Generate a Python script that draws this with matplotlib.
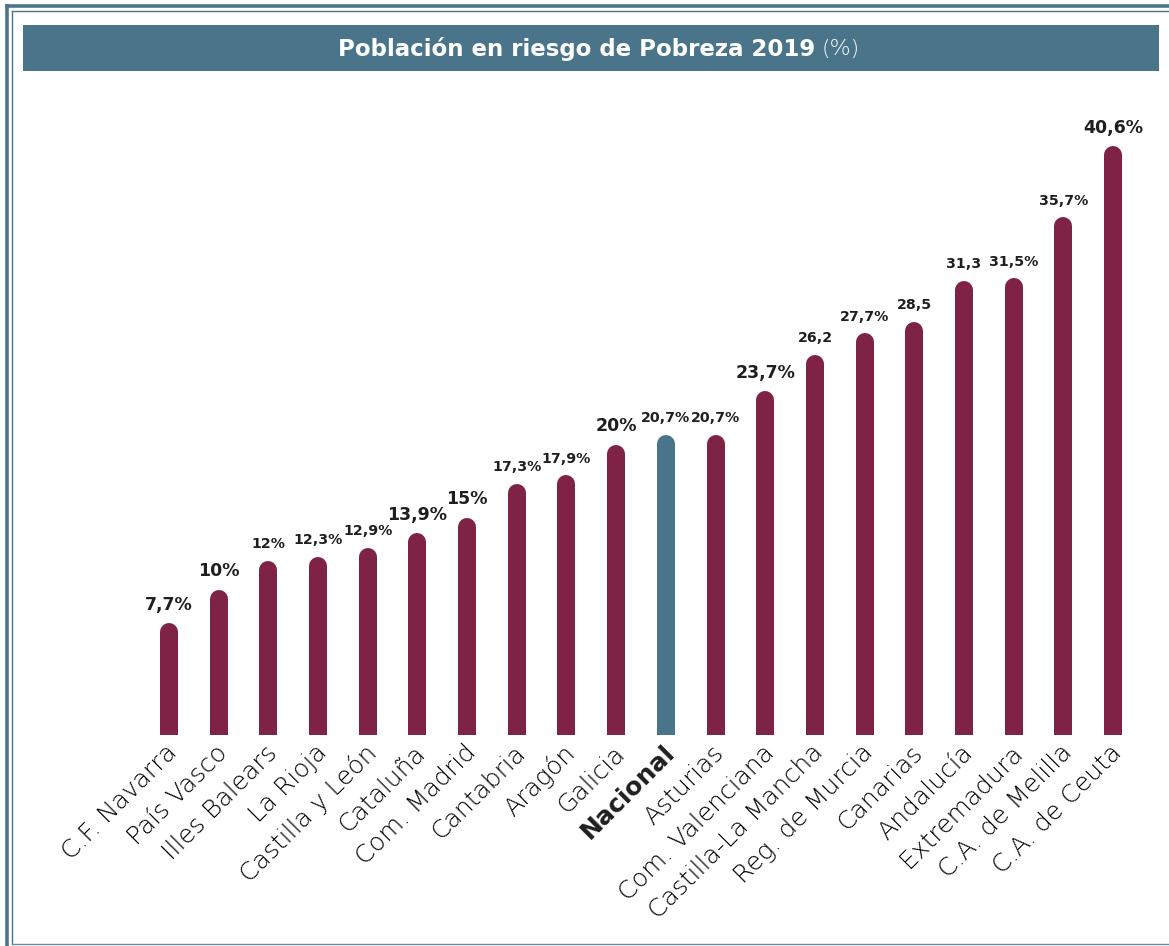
import matplotlib
matplotlib.use("Agg")
import matplotlib.pyplot as plt
import matplotlib.transforms as mtransforms
from matplotlib.lines import Line2D
from matplotlib.patches import Rectangle

# ── data ──────────────────────────────────────────────────────────────────────
regions = ["C.F. Navarra", "País Vasco", "Illes Balears", "La Rioja", "Castilla y León",
           "Cataluña", "Com. Madrid", "Cantabria", "Aragón", "Galicia", "Nacional",
           "Asturias", "Com. Valenciana", "Castilla-La Mancha", "Reg. de Murcia",
           "Canarias", "Andalucía", "Extremadura", "C.A. de Melilla", "C.A. de Ceuta"]
values = [7.7, 10, 12, 12.3, 12.9, 13.9, 15, 17.3, 17.9, 20, 20.7,
          20.7, 23.7, 26.2, 27.7, 28.5, 31.3, 31.5, 35.7, 40.6]
value_labels = ["7,7%", "10%", "12%", "12,3%", "12,9%", "13,9%", "15%", "17,3%", "17,9%",
                "20%", "20,7%", "20,7%", "23,7%", "26,2", "27,7%", "28,5", "31,3",
                "31,5%", "35,7%", "40,6%"]
highlight = "Nacional"

# ── style ─────────────────────────────────────────────────────────────────────
BAR = "#7f2346"
BLUE = "#4a7489"
TXT = "#1f1f1f"
W, H = 1169, 946
big_labels = {"7,7%", "10%", "15%", "20%", "23,7%", "40,6%", "13,9%"}

fig = plt.figure(figsize=(W / 100, H / 100), dpi=100)
fig.patch.set_facecolor("white")

def px(x, y):
    return x / W, 1 - y / H

# frame: thick outer line + thin inner line
fig.add_artist(Line2D([6.5 / W, 6.5 / W], [0, 1 - 6.5 / H], color=BLUE, lw=2.6))
fig.add_artist(Line2D([6.5 / W, 1], [1 - 6.5 / H, 1 - 6.5 / H], color=BLUE, lw=2.6))
fig.add_artist(Line2D([11.5 / W, 11.5 / W], [1 - 944 / H, 1 - 11.5 / H], color=BLUE, lw=1.0))
fig.add_artist(Line2D([11.5 / W, 1], [1 - 11.5 / H, 1 - 11.5 / H], color=BLUE, lw=1.0))
fig.add_artist(Line2D([11.5 / W, 1], [1 - 944 / H, 1 - 944 / H], color="#6f8a98", lw=1.0))

# title bar
fig.add_artist(Rectangle(px(23, 71), (1159 - 23) / W, 46 / H, color=BLUE, lw=0))
fig.text(*px(815, 49), "Población en riesgo de Pobreza 2019", color="white",
         fontsize=16.5, fontweight="bold", family="DejaVu Sans", ha="right", va="center")
fig.text(*px(822, 49), "(%)", color="white", fontsize=16, fontweight="light",
         family="DejaVu Sans", ha="left", va="center")

# ── axes ──────────────────────────────────────────────────────────────────────
base_px, top_px = 735, 80
unit_px = 14.5
left_px, right_px = 144, 1138
ax = fig.add_axes([left_px / W, 1 - base_px / H, (right_px - left_px) / W,
                   (base_px - top_px) / H])
ax.set_xlim(-0.5, len(values) - 0.5)
ax.set_ylim(0, (base_px - top_px) / unit_px)
ax.axis("off")

bar_px = 18
r = (bar_px / 2) / unit_px
for i, (name, v, lab) in enumerate(zip(regions, values, value_labels)):
    c = BLUE if name == highlight else BAR
    ax.plot([i, i], [-5, v - r], color=c, lw=bar_px * 0.72,
            solid_capstyle="round", clip_on=True)
    ax.annotate(lab, (i, v), xytext=(0, 7), textcoords="offset points",
                ha="center", va="bottom", color=TXT, family="DejaVu Sans",
                fontweight="bold", fontsize=12.5 if lab in big_labels else 10.2)

# category labels, rotated 45°
offset = mtransforms.ScaledTranslation(5 / 100, -14 / 100, fig.dpi_scale_trans)
for i, name in enumerate(regions):
    bold = name == highlight
    ax.text(i, 0, name, rotation=45, rotation_mode="anchor", ha="right", va="center",
            transform=ax.transData + offset, fontsize=18,
            family="DejaVu Sans", fontweight="bold" if bold else "light",
            color=TXT if bold else "black")

fig.savefig("out.png", dpi=100)
